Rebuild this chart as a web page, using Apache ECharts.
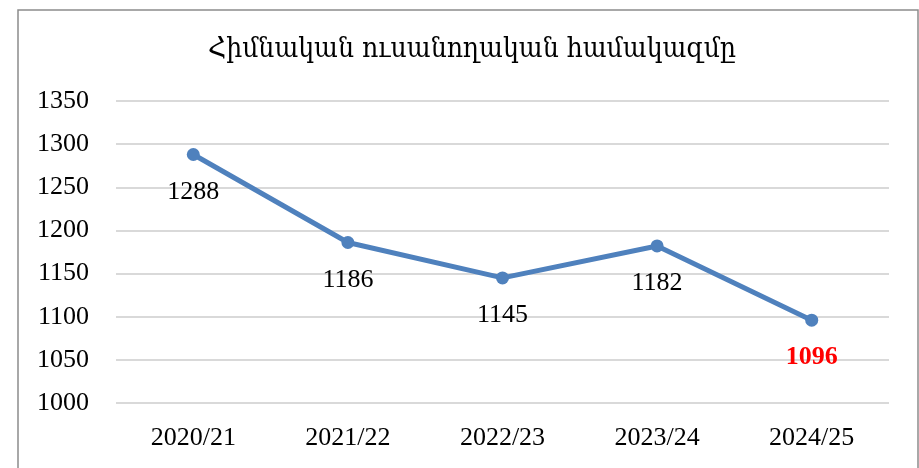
<!DOCTYPE html>
<html>
<head>
<meta charset="utf-8">
<script src="https://cdn.jsdelivr.net/npm/echarts@6/dist/echarts.min.js"></script>
<style>
  html, body { margin: 0; padding: 0; background: #fff; }
  #chart { width: 919px; height: 468px; }
</style>
</head>
<body>
<div id="chart"></div>
<script>
// données du graphique
const titre = "Հիմնական ուսանողական համակազմը";
const annees = ["2020/21", "2021/22", "2022/23", "2023/24", "2024/25"];
const effectifs = [1288, 1186, 1145, 1182, 1096];
const yMin = 1000, yMax = 1350, yPas = 50;

const chart = echarts.init(document.getElementById("chart"));
const serif = "'Liberation Serif', 'DejaVu Serif', serif";

const points = effectifs.map((v, i) => {
    // dernier point en rouge gras
    if (i === effectifs.length - 1) {
        return { value: v, label: { color: "#ff0000", fontWeight: "bold" } };
    }
    return v;
});

chart.setOption({
    backgroundColor: "#fff",
    animation: false,
    title: {
        text: titre,
        left: 467,
        textAlign: "center",
        top: 31,
        textStyle: { fontFamily: "'DejaVu Serif Condensed', 'DejaVu Serif', serif", fontSize: 28, fontWeight: "normal", color: "#000" }
    },
    graphic: [{
        type: "rect",
        shape: { x: 18, y: 10, width: 900, height: 470 },
        style: { fill: "none", stroke: "#8c8c8c", lineWidth: 1.5 },
        silent: true
    }],
    grid: { left: 116, right: 30, top: 101, bottom: 65 },
    xAxis: {
        type: "category",
        data: annees,
        axisLine: { show: false },
        axisTick: { show: false },
        axisLabel: { color: "#000", fontFamily: serif, fontSize: 26, margin: 22 }
    },
    yAxis: {
        type: "value",
        min: yMin,
        max: yMax,
        interval: yPas,
        axisLine: { show: false },
        axisTick: { show: false },
        axisLabel: { color: "#000", fontFamily: serif, fontSize: 26, margin: 27, formatter: v => String(v) },
        splitLine: { lineStyle: { color: "#d9d9d9", width: 2 } }
    },
    series: [{
        type: "line",
        data: points,
        symbol: "circle",
        symbolSize: 13,
        lineStyle: { color: "#4f81bd", width: 5 },
        itemStyle: { color: "#4f81bd" },
        label: {
            show: true,
            position: "bottom",
            distance: 18,
            color: "#000",
            fontFamily: serif,
            fontSize: 26
        }
    }]
});
</script>
</body>
</html>
